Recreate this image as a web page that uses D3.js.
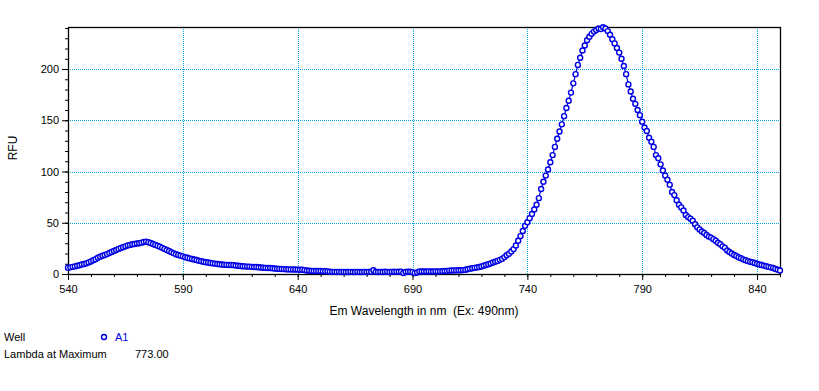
<!DOCTYPE html>
<html>
<head>
<meta charset="utf-8">
<script src="https://cdn.jsdelivr.net/npm/d3@7"></script>
<style>
    body { margin: 0; background: #fff; }
    text { font-family: "Liberation Sans", Arial, sans-serif; }
</style>
</head>
<body>
<div id="chart"></div>
<script>
// emission scan, 1 nm steps
var wavelengths = d3.range(540, 851);

var rfu = [
    6.2, 6.5, 7.0, 7.4, 8.0, 8.6, 9.2, 9.8, 10.4, 11.3,
    12.3, 13.5, 14.5, 15.8, 16.8, 17.8, 18.6, 19.4, 20.5, 21.5,
    22.5, 23.4, 24.5, 25.3, 26.2, 27.0, 27.8, 28.4, 29.0, 29.3,
    29.7, 30.0, 30.6, 31.2, 31.6, 31.0, 30.2, 29.3, 28.4, 27.6,
    26.7, 25.5, 24.5, 23.4, 22.4, 21.2, 20.2, 19.3, 18.5, 17.9,
    17.2, 16.4, 15.9, 15.2, 14.6, 14.2, 13.6, 13.0, 12.5, 12.0,
    11.5, 11.2, 10.8, 10.4, 10.1, 9.8, 9.5, 9.3, 9.0, 8.9,
    8.8, 8.8, 8.7, 8.3, 8.0, 7.8, 7.6, 7.4, 7.2, 7.2,
    7.0, 6.9, 6.8, 6.6, 6.3, 6.1, 6.0, 5.9, 5.8, 5.6,
    5.3, 5.1, 5.0, 4.9, 4.8, 4.6, 4.5, 4.5, 4.4, 4.4,
    4.3, 4.2, 4.1, 3.8, 3.4, 3.1, 3.0, 3.0, 2.9, 2.9,
    2.9, 2.8, 2.8, 2.6, 2.3, 2.1, 2.1, 2.0, 2.1, 2.0,
    2.1, 2.0, 2.0, 2.1, 2.0, 1.9, 2.1, 2.0, 2.0, 2.1,
    2.0, 2.1, 2.2, 3.6, 2.1, 2.0, 2.1, 2.0, 2.2, 2.1,
    2.0, 2.1, 2.2, 2.1, 2.2, 2.3, 1.0, 2.1, 2.2, 2.2,
    1.8, 0.9, 1.5, 2.4, 2.5, 2.5, 2.4, 2.6, 2.5, 2.5,
    2.6, 2.5, 2.6, 2.7, 2.9, 3.0, 3.3, 3.4, 3.5, 3.5,
    3.6, 3.6, 3.8, 4.1, 4.7, 5.2, 5.6, 6.0, 6.4, 6.8,
    7.3, 8.0, 8.8, 9.5, 10.3, 11.2, 12.0, 12.8, 13.8, 14.8,
    16.5, 18.3, 19.8, 22.0, 24.3, 27.8, 32.5, 37.0, 42.0, 47.0,
    50.5, 54.5, 58.5, 63.0, 67.5, 74.0, 83.0, 90.0, 96.0, 102.0,
    109.0, 116.0, 124.0, 132.0, 139.0, 146.0, 154.0, 162.0, 169.0, 177.0,
    186.0, 195.0, 204.0, 211.0, 218.0, 223.0, 228.0, 231.5, 234.5, 236.5,
    238.0, 239.5, 239.0, 240.8, 239.5, 237.0, 233.5, 229.0, 225.0, 220.5,
    216.0, 210.0, 203.0, 195.0, 185.0, 178.0, 171.0, 166.0, 160.0, 155.0,
    148.5, 143.0, 139.5, 133.0, 129.0, 124.0, 116.0, 113.0, 107.0, 101.0,
    96.0, 92.0, 87.0, 80.0, 77.0, 72.0, 67.5, 65.0, 62.0, 57.5,
    55.5, 54.0, 52.0, 48.5, 45.5, 43.5, 41.5, 40.0, 38.0, 36.5,
    35.5, 34.0, 32.5, 30.5, 29.0, 27.0, 25.5, 23.0, 21.5, 20.0,
    18.5, 17.5, 16.3, 15.3, 14.3, 13.4, 12.6, 12.0, 11.4, 10.8,
    10.0, 9.3, 8.8, 8.2, 7.6, 7.0, 6.5, 5.8, 5.0, 4.2,
    3.4
];

var xMajorTicks = [540, 590, 640, 690, 740, 790, 840];
var xMinorTicks = d3.range(540, 851, 10);
var yMajorTicks = [0, 50, 100, 150, 200];
var yMinorTicks = d3.range(0, 241, 10);

var wellName = "A1";
var lambdaMax = "773.00";

var svgWidth = 819;
var svgHeight = 391;

var margin = { top: 27, right: 39, bottom: 117, left: 68 };
var width = svgWidth - margin.left - margin.right;
var height = svgHeight - margin.top - margin.bottom;

var blue = "#0000e6";
var gridColor = "#00a8e8";

var svg = d3.select("#chart")
    .append("svg")
    .attr("width", svgWidth)
    .attr("height", svgHeight)
    .style("display", "block");

svg.append("rect")
    .attr("width", svgWidth)
    .attr("height", svgHeight)
    .attr("fill", "#fff");

var chartGroup = svg.append("g")
    .attr("transform", `translate(${margin.left}, ${margin.top})`);

var x = d3.scaleLinear().domain([540, 850]).range([0, width]);
var y = d3.scaleLinear().domain([0, 241]).range([height, 0]);

// dotted grid
chartGroup.append("g")
    .selectAll("line")
    .data(yMajorTicks.filter(d => d > 0))
    .enter()
    .append("line")
    .attr("x1", 0)
    .attr("x2", width)
    .attr("y1", d => Math.round(y(d)) + 0.5)
    .attr("y2", d => Math.round(y(d)) + 0.5)
    .attr("stroke", gridColor)
    .attr("stroke-dasharray", "1,1");

chartGroup.append("g")
    .selectAll("line")
    .data(xMajorTicks.filter(d => d > 540))
    .enter()
    .append("line")
    .attr("y1", 0)
    .attr("y2", height)
    .attr("x1", d => Math.round(x(d)) + 0.5)
    .attr("x2", d => Math.round(x(d)) + 0.5)
    .attr("stroke", gridColor)
    .attr("stroke-dasharray", "1,1");

// axes
function styleAxis(g) {
    g.selectAll("text")
        .style("font-size", "11px")
        .attr("fill", "#000");
    g.selectAll("line").attr("stroke", "#000");
    g.select(".domain").remove();
}

chartGroup.append("g")
    .attr("transform", `translate(0, ${height})`)
    .call(d3.axisBottom(x).tickValues(xMinorTicks).tickSize(3).tickFormat(""))
    .call(styleAxis);

chartGroup.append("g")
    .attr("transform", `translate(0, ${height})`)
    .call(d3.axisBottom(x).tickValues(xMajorTicks).tickSize(6).tickPadding(5).tickFormat(d3.format("d")))
    .call(styleAxis);

chartGroup.append("g")
    .call(d3.axisLeft(y).tickValues(yMinorTicks).tickSize(3).tickFormat(""))
    .call(styleAxis);

chartGroup.append("g")
    .call(d3.axisLeft(y).tickValues(yMajorTicks).tickSize(6).tickPadding(3).tickFormat(d3.format("d")))
    .call(styleAxis);

// frame
chartGroup.append("rect")
    .attr("x", 0.5)
    .attr("y", 0.5)
    .attr("width", width)
    .attr("height", height)
    .attr("fill", "none")
    .attr("stroke", "#000")
    .attr("stroke-width", 1.3);

// axis titles
chartGroup.append("text")
    .attr("x", width / 2)
    .attr("y", height + 41)
    .attr("text-anchor", "middle")
    .style("font-size", "12px")
    .style("white-space", "pre")
    .text("Em Wavelength in nm  (Ex: 490nm)");

svg.append("text")
    .attr("transform", "translate(17, 148) rotate(-90)")
    .attr("text-anchor", "middle")
    .style("font-size", "12px")
    .text("RFU");

// data line and markers
var points = wavelengths.map((w, i) => ({ w: w, v: rfu[i] }));

chartGroup.append("path")
    .datum(points)
    .attr("fill", "none")
    .attr("stroke", blue)
    .attr("stroke-width", 1.2)
    .attr("d", d3.line().x(d => x(d.w)).y(d => y(d.v)));

chartGroup.append("g")
    .selectAll("circle")
    .data(points)
    .enter()
    .append("circle")
    .attr("cx", d => x(d.w))
    .attr("cy", d => y(d.v))
    .attr("r", 2.5)
    .attr("fill", "#fff")
    .attr("stroke", blue)
    .attr("stroke-width", 1.4);

// legend / info block
var info = svg.append("g").style("font-size", "11px");

info.append("text").attr("x", 4).attr("y", 341).text("Well");
info.append("circle")
    .attr("cx", 104)
    .attr("cy", 337)
    .attr("r", 2.5)
    .attr("fill", "#fff")
    .attr("stroke", blue)
    .attr("stroke-width", 1.4);
info.append("text").attr("x", 115).attr("y", 341).attr("fill", blue).text(wellName);

info.append("text").attr("x", 4).attr("y", 358).text("Lambda at Maximum");
info.append("text").attr("x", 135).attr("y", 358).text(lambdaMax);
</script>
</body>
</html>
